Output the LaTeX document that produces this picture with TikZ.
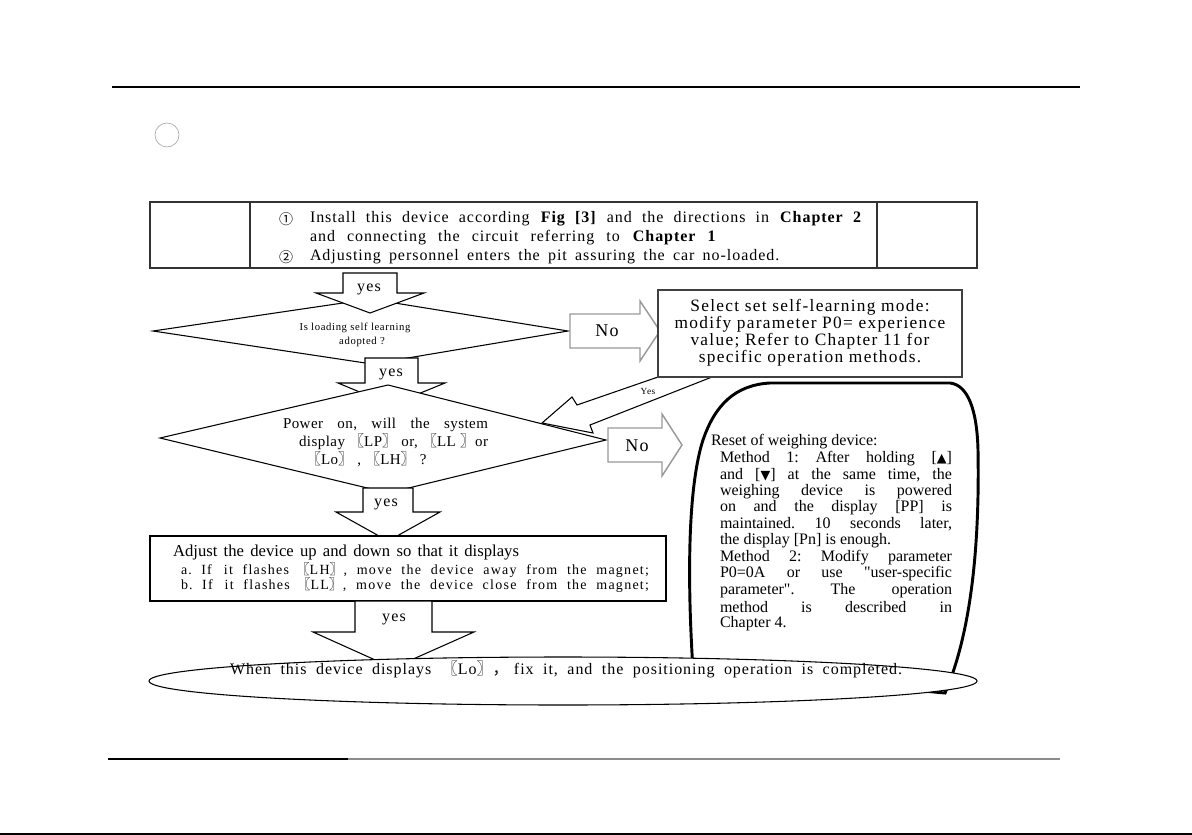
\documentclass[tikz,border=0pt]{standalone}
\usepackage{fontspec}
\setmainfont{Liberation Serif}[Ligatures=TeXOff]
\newfontfamily\cjk{Noto Sans CJK SC}
\newfontfamily\dv{DejaVu Sans}
\newcommand\Lbr{{\cjk 〖}}
\newcommand\Rbr{{\cjk 〗}}
\newcommand\fsz[2]{\fontsize{#1}{#2}\selectfont}
\newcommand\trk[1]{\addfontfeature{LetterSpace=#1}}
\frenchspacing
\tikzset{
  blk/.style={draw=black, fill=white, line width=0.8pt, line join=miter},
  noarr/.style={draw=black!40, fill=white, line width=1.1pt, line join=miter},
  dia/.style={draw=black, fill=white, line width=0.8pt, line join=miter},
  lbl/.style={inner sep=0pt, outer sep=0pt},
  boxone/.style={draw=black!80, line width=1.6pt},
}
\begin{document}
\begin{tikzpicture}[x=0.75pt,y=-0.75pt]
\useasboundingbox (0,0) rectangle (1192,835);
% page rules
\draw[line width=0.8pt] (112,87) -- (1080,87);
\draw[black!35, line width=0.5pt] (167,135) circle [radius=9pt];
\draw[black!45, line width=1.4pt] (108,759) -- (1060,759);
\draw[black, line width=1.6pt] (108,759) -- (348,759);
\draw[black, line width=1.6pt] (0,834) -- (1192,834);

% box 1
\draw[boxone] (150,202) rectangle (977,268);
\draw[boxone] (250,202) -- (250,268) (877,202) -- (877,268);
\node[lbl] (c1) at (286,219) {\cjk\fsz{10.5}{12}①};
\node[lbl, anchor=west] (t1) at (310,219) {\fsz{12}{14}\trk{6}\makebox[414pt][s]{Install this device according \textbf{Fig [3]} and the directions in \textbf{Chapter 2}}};
\node[lbl, anchor=west] (t2) at (310,237.5) {\fsz{12}{14}\trk{6}\makebox[305pt][s]{and connecting the circuit referring to \textbf{Chapter 1}}};
\begin{scope}
\clip (250,202) rectangle (877,265.5);
\node[lbl] (c2) at (286,257) {\cjk\fsz{10.5}{12}②};
\node[lbl, anchor=west] (t3) at (310,257) {\fsz{12}{14}\trk{6}\makebox[352pt][s]{Adjusting personnel enters the pit assuring the car no-loaded.}};
\end{scope}

% diamond 1 and arrow 1
\draw[dia] (153,331) -- (370,299) -- (568,331) -- (372,364) -- cycle;
\draw[blk] (343,273) -- (397,273) -- (397,293) -- (424,293) -- (370,313) -- (316,293) -- (343,293) -- cycle;
\node[lbl] (y1) at (369,289) {\fsz{12}{14}\trk{8}yes};
\node[lbl] (d1a) at (355,328) {\fsz{8}{10}\trk{6}Is loading self learning};
\node[lbl] (d1b) at (362,342) {\fsz{8}{10}\trk{6}adopted ?};

% No arrow 1
\draw[noarr] (570,314) -- (640,314) -- (640,301) -- (660,331) -- (640,361) -- (640,348) -- (570,348) -- cycle;
\node[lbl] (n1) at (607,331) {\fsz{13.5}{15}\trk{6}No};

% arrow 2 and diamond 2
\draw[blk] (365,358) -- (418,358) -- (418,383) -- (445,383) -- (391,405) -- (338,383) -- (365,383) -- cycle;
\node[lbl] (y2) at (391,374) {\fsz{12}{14}\trk{8}yes};
\draw[dia] (160,438) -- (388,385) -- (606,440) -- (388,493) -- cycle;

% diagonal Yes arrow and select box
\draw[blk] (658,377) -- (577,405) -- (572,397) -- (542,423) -- (593,433) -- (590,425) -- (712,377);
\draw[draw=black!75, fill=white, line width=1.2pt] (658,290) rectangle (962,377);
\node[lbl, align=center, font={\fsz{13}{12.75}\trk{7.5}}] (sel) at (810,332.5) {Select set self-learning mode:\\modify parameter P0= experience\\value; Refer to Chapter 11 for\\specific operation methods.};
\node[lbl] (yd) at (648,391) {\fsz{7}{8}\trk{6}Yes};

% No arrow 2
\draw[noarr] (608,428) -- (662,428) -- (662,414) -- (682,445) -- (662,476) -- (662,462) -- (608,462) -- cycle;
\node[lbl] (n2) at (637,446) {\fsz{13.5}{15}\trk{6}No};

% diamond 2 text
\node[lbl, anchor=west] (d2a) at (283,425) {\fsz{11.25}{13}\trk{3}\makebox[153.75pt][s]{Power on, will the system}};
\node[lbl, anchor=west] (d2b) at (299,442) {\fsz{11.25}{13}\trk{3}display \Lbr LP\Rbr{} or, \Lbr LL \Rbr{}or};
\node[lbl, anchor=west] (d2c) at (306,459) {\fsz{11.25}{13}\trk{3}\Lbr Lo\Rbr{} , \Lbr LH\Rbr{} ?};

% arrow 3 and adjust box
\draw[blk] (363,488) -- (413,488) -- (413,512) -- (440,512) -- (388,541) -- (336,512) -- (363,512) -- cycle;
\node[lbl] (y3) at (386,504) {\fsz{12}{14}\trk{8}yes};
\draw[draw=black, fill=white, line width=1.2pt] (150,536) rectangle (666,601);
\node[lbl, anchor=west] (a1) at (173,553) {\fsz{12.5}{14}\makebox[259.5pt][s]{Adjust the device up and down so that it displays}};
\node[lbl, anchor=west] (a2) at (181,570) {\fsz{10.5}{12}\trk{9}\makebox[351pt][s]{a.\hspace{7pt}If\hspace{9pt}it flashes\hspace{5pt}\Lbr LH\Rbr, move the device away from the magnet;}};
\node[lbl, anchor=west] (a3) at (181,585) {\fsz{10.5}{12}\trk{9}\makebox[351pt][s]{b.\hspace{7pt}If\hspace{9pt}it flashes\hspace{5pt}\Lbr LL\Rbr, move the device close from the magnet;}};

% reset shape
\draw[draw=black, fill=white, line width=2.2pt] (693,670) .. controls (686,560) and (690,480) .. (703,440) .. controls (715,405) and (735,385) .. (770,383) -- (950,383) .. controls (968,385) and (977,410) .. (978,450) .. controls (980,560) and (968,640) .. (945,693) -- cycle;
\node[lbl, anchor=west] (r0) at (711,442) {\fsz{12}{14}Reset of weighing device:};
\node[lbl, anchor=west] (r1) at (720,458.5) {\fsz{12}{14}\makebox[174pt][s]{Method 1: After holding [{\dv\fsz{9.5}{14}▲}]}};
\node[lbl, anchor=west] (r2) at (720,475) {\fsz{12}{14}\makebox[174pt][s]{and [{\dv\fsz{9.5}{14}▼}] at the same time, the}};
\node[lbl, anchor=west] (r3) at (720,491.5) {\fsz{12}{14}\makebox[174pt][s]{weighing device is powered}};
\node[lbl, anchor=west] (r4) at (720,508) {\fsz{12}{14}\makebox[174pt][s]{on and the display [PP] is}};
\node[lbl, anchor=west] (r5) at (720,524.5) {\fsz{12}{14}\makebox[174pt][s]{maintained. 10 seconds later,}};
\node[lbl, anchor=west] (r6) at (720,541) {\fsz{12}{14}the display [Pn] is enough.};
\node[lbl, anchor=west] (r7) at (720,557.5) {\fsz{12}{14}\makebox[174pt][s]{Method 2: Modify parameter}};
\node[lbl, anchor=west] (r8) at (720,574) {\fsz{12}{14}\makebox[174pt][s]{P0=0A or use "user-specific}};
\node[lbl, anchor=west] (r9) at (720,590.5) {\fsz{12}{14}\makebox[174pt][s]{parameter". The operation}};
\node[lbl, anchor=west] (r10) at (720,607) {\fsz{12}{14}\makebox[174pt][s]{method is described in}};
\node[lbl, anchor=west] (r11) at (720,623.5) {\fsz{12}{14}Chapter 4.};

% arrow 4 and final oval
\draw[blk] (355,601) -- (432,601) -- (432,632) -- (474,632) -- (393,668) -- (313,632) -- (355,632) -- cycle;
\node[lbl] (y4) at (394,619) {\fsz{12}{14}\trk{8}yes};
\draw[draw=black, fill=white, line width=0.8pt] (563,681) ellipse [x radius=310.5pt, y radius=18pt];
\node[lbl] (ov) at (566,669) {\fsz{12}{14}\trk{6}\makebox[504pt][s]{When this device displays\hspace{8pt}\Lbr Lo\Rbr{\cjk ，}\hspace{4pt}fix it, and the positioning operation is completed.}};
\end{tikzpicture}
\end{document}
